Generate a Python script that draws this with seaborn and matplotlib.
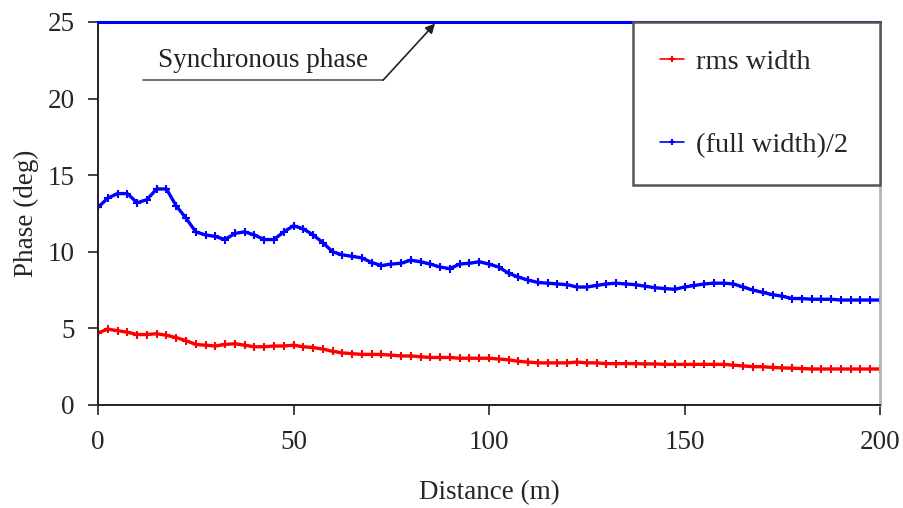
import numpy as np
import pandas as pd
import matplotlib
matplotlib.use("Agg")
import matplotlib.pyplot as plt
import seaborn as sns

# ---- data ----
distance = np.arange(0, 202.5, 2.5)

rms_width = [
    4.70, 4.95, 4.85, 4.75, 4.60, 4.60, 4.65, 4.55, 4.40, 4.20,
    3.95, 3.90, 3.85, 3.95, 4.00, 3.90, 3.80, 3.80, 3.85, 3.85,
    3.90, 3.80, 3.75, 3.65, 3.50, 3.40, 3.35, 3.30, 3.30, 3.30,
    3.25, 3.20, 3.20, 3.15, 3.10, 3.10, 3.10, 3.05, 3.05, 3.05,
    3.05, 3.00, 2.95, 2.85, 2.80, 2.75, 2.75, 2.75, 2.75, 2.80,
    2.75, 2.75, 2.70, 2.70, 2.70, 2.70, 2.68, 2.68, 2.65, 2.65,
    2.65, 2.65, 2.65, 2.65, 2.65, 2.60, 2.55, 2.50, 2.50, 2.45,
    2.42, 2.40, 2.38, 2.35, 2.35, 2.35, 2.35, 2.35, 2.35, 2.35,
    2.35,
]

half_full_width = [
    12.9, 13.5, 13.8, 13.8, 13.2, 13.4, 14.1, 14.1, 13.0, 12.2,
    11.3, 11.1, 11.0, 10.8, 11.2, 11.3, 11.1, 10.8, 10.8, 11.3,
    11.7, 11.5, 11.1, 10.6, 10.0, 9.8, 9.7, 9.6, 9.3, 9.1,
    9.2, 9.25, 9.45, 9.35, 9.2, 9.0, 8.9, 9.2, 9.25, 9.35,
    9.2, 9.0, 8.6, 8.35, 8.15, 8.0, 7.95, 7.9, 7.85, 7.7,
    7.7, 7.8, 7.9, 7.95, 7.9, 7.85, 7.75, 7.65, 7.6, 7.55,
    7.7, 7.8, 7.9, 7.95, 7.95, 7.9, 7.7, 7.5, 7.35, 7.2,
    7.1, 6.95, 6.95, 6.9, 6.9, 6.9, 6.85, 6.85, 6.85, 6.85,
    6.85,
]

sync_phase = 25
series_labels = ["rms width", "(full width)/2"]
x_ticks = [0, 50, 100, 150, 200]
y_ticks = [0, 5, 10, 15, 20, 25]

sns.set_style("ticks")
plt.rcParams["font.family"] = ["Liberation Serif", "DejaVu Serif"]
FS = 19.5

fig = plt.figure(figsize=(9.04, 5.08), dpi=100)
ax = fig.add_axes([0.1084, 0.2028, 0.8651, 0.7539])

for vals, col, lab in [(rms_width, "#ff0000", series_labels[0]),
                       (half_full_width, "#0000ff", series_labels[1])]:
    sns.lineplot(x=distance, y=vals, ax=ax, color=col, lw=2.4,
                 marker="+", markersize=6, markeredgewidth=1.5,
                 markeredgecolor=col, markerfacecolor=col, label=lab)

# synchronous phase line along the top
ax.axhline(sync_phase, color="#0000ff", lw=2.2, clip_on=False, zorder=5)

# callout: text with an underline and an arrow to the line
ax.text(42.2, 22.5, "Synchronous phase", fontsize=FS, ha="center", va="center",
        color="#222222")
ax.plot([11.5, 72.9], [21.2, 21.2], color="#555555", lw=1.2)
ax.annotate("", xy=(86.2, 24.9), xytext=(72.9, 21.2),
            arrowprops=dict(arrowstyle="-|>", color="#222222", lw=1.2,
                            mutation_scale=14, shrinkA=0, shrinkB=0))

ax.set_xlim(0, 200)
ax.set_ylim(0, 25)
ax.set_xticks(x_ticks)
ax.set_yticks(y_ticks)
ax.tick_params(axis="both", direction="out", length=7, width=1.2,
               labelsize=FS, color="#222222")
ax.tick_params(axis="x", pad=11)
ax.tick_params(axis="y", pad=10)
ax.set_xlabel("Distance (m)", fontsize=FS, labelpad=18)
ax.set_ylabel("Phase (deg)", fontsize=FS, labelpad=6)

ax.spines["top"].set_visible(False)
ax.spines["left"].set_color("#222222")
ax.spines["bottom"].set_color("#222222")
ax.spines["left"].set_linewidth(1.4)
ax.spines["bottom"].set_linewidth(1.4)
ax.spines["right"].set_visible(True)
ax.spines["right"].set_color("#b5b5b5")
ax.spines["right"].set_linewidth(2)

leg = ax.legend(loc="upper right", bbox_to_anchor=(0.684, 0.0, 0.316, 1.0),
                mode="expand", fontsize=20.5,
                frameon=True, fancybox=False, edgecolor="#555555",
                framealpha=1, borderpad=0.95, labelspacing=2.0,
                handlelength=0.85, handletextpad=0.4, borderaxespad=0,
                markerscale=0.7)
leg.get_frame().set_linewidth(1.8)
leg.set_zorder(10)
for h in leg.legend_handles:
    h.set_linewidth(1.2)

fig.savefig("out.png", dpi=100)
